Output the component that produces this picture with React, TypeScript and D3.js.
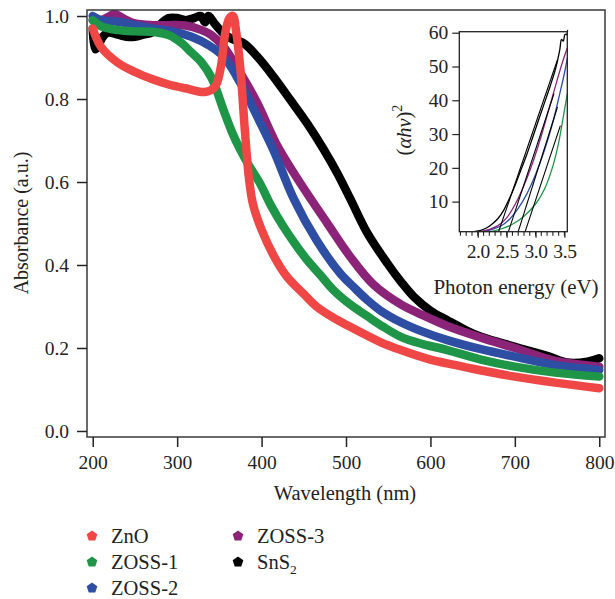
import React, { useRef, useEffect } from "react";
import * as d3 from "d3";

// main plot: wavelength (nm) vs absorbance
const xTicks = [200, 300, 400, 500, 600, 700, 800];
const yTicks = [0.0, 0.2, 0.4, 0.6, 0.8, 1.0];

const zno = [
  [200, 0.97], [210, 0.925], [230, 0.887], [250, 0.865], [270, 0.848], [290, 0.835],
  [310, 0.826], [333, 0.817], [345, 0.83], [352, 0.88], [357, 0.96], [362, 0.995],
  [366, 1.0], [370, 0.96], [375, 0.87], [380, 0.73], [385, 0.61], [390, 0.545],
  [400, 0.485], [415, 0.42], [430, 0.372], [450, 0.33], [465, 0.3], [485, 0.273],
  [505, 0.251], [540, 0.215], [565, 0.195], [600, 0.172], [620, 0.163], [650, 0.15],
  [700, 0.131], [750, 0.116], [800, 0.103],
];
const zoss1 = [
  [200, 0.99], [210, 0.975], [230, 0.966], [250, 0.963], [270, 0.962], [290, 0.954],
  [305, 0.935], [317, 0.912], [329, 0.888], [341, 0.85], [355, 0.773], [365, 0.72],
  [375, 0.677], [385, 0.64], [398, 0.597], [412, 0.54], [426, 0.492], [440, 0.45],
  [454, 0.412], [470, 0.375], [485, 0.34], [505, 0.305], [525, 0.277], [545, 0.25],
  [565, 0.227], [590, 0.21], [620, 0.195], [660, 0.172], [700, 0.155], [750, 0.14],
  [800, 0.131],
];
const zoss2 = [
  [200, 1.0], [210, 0.99], [230, 0.986], [250, 0.978], [270, 0.97], [297, 0.962],
  [317, 0.95], [337, 0.93], [355, 0.902], [375, 0.838], [395, 0.757], [414, 0.677],
  [438, 0.56], [465, 0.46], [493, 0.38], [510, 0.345], [525, 0.316], [541, 0.29],
  [565, 0.262], [590, 0.24], [620, 0.219], [660, 0.197], [700, 0.179], [750, 0.158],
  [800, 0.147],
];
const zoss3 = [
  [200, 0.99], [210, 0.99], [220, 1.0], [226, 1.005], [240, 0.99], [250, 0.982],
  [270, 0.978], [290, 0.978], [310, 0.977], [329, 0.966], [340, 0.955], [355, 0.926],
  [375, 0.862], [395, 0.79], [418, 0.69], [446, 0.597], [478, 0.5], [505, 0.42],
  [533, 0.352], [565, 0.305], [590, 0.28], [620, 0.253], [660, 0.225], [700, 0.2],
  [750, 0.168], [800, 0.155],
];
const sns2 = [
  [200, 0.97], [203, 0.92], [207, 0.93], [212, 0.95], [218, 0.96], [230, 0.955],
  [240, 0.95], [250, 0.95], [260, 0.955], [270, 0.96], [280, 0.98], [290, 0.995],
  [300, 0.995], [310, 0.99], [320, 0.995], [328, 1.0], [333, 0.985], [337, 1.0],
  [345, 0.98], [355, 0.958], [365, 0.945], [379, 0.934], [395, 0.902], [414, 0.854],
  [434, 0.798], [454, 0.741], [474, 0.677], [490, 0.62], [505, 0.56], [525, 0.478],
  [549, 0.404], [565, 0.36], [580, 0.324], [600, 0.29], [620, 0.267], [640, 0.245],
  [660, 0.227], [700, 0.203], [740, 0.18], [762, 0.165], [786, 0.167], [800, 0.175],
];

// inset: photon energy (eV) vs (ahv)^2
const insetXMajor = [2.0, 2.5, 3.0, 3.5];
const insetYTicks = [10, 20, 30, 40, 50, 60];
const insetSnS2 = [
  [1.95, 1.2], [2.05, 1.5], [2.15, 2.2], [2.25, 3.4], [2.35, 5], [2.45, 7.5],
  [2.55, 11], [2.65, 15], [2.75, 19.5], [2.85, 24], [2.95, 29], [3.05, 34],
  [3.15, 39], [3.25, 44], [3.35, 49.5], [3.42, 55], [3.45, 58], [3.48, 57.5],
  [3.51, 59.5], [3.54, 59.5], [3.56, 61],
];
const insetZoss3 = [
  [2.05, 1.1], [2.2, 1.8], [2.35, 2.9], [2.5, 5.2], [2.65, 9.3], [2.8, 14.8],
  [2.95, 21.5], [3.1, 29.5], [3.25, 38.5], [3.4, 47.5], [3.48, 52], [3.55, 55.5],
];
const insetZoss2 = [
  [2.08, 1.1], [2.25, 1.8], [2.4, 2.8], [2.55, 4.8], [2.7, 8], [2.85, 12.3],
  [3.0, 18], [3.15, 25], [3.3, 33.5], [3.42, 42], [3.5, 48], [3.55, 52.5],
];
const insetZoss1 = [
  [2.2, 1.1], [2.4, 1.9], [2.6, 3.3], [2.8, 5.7], [3.0, 9.3], [3.15, 13.5],
  [3.3, 20.5], [3.4, 27.5], [3.48, 35], [3.55, 42],
];
// band gap extrapolation lines
const tangents = [
  [[2.36, 1.1], [3.38, 52]],
  [[2.53, 1.1], [3.32, 42]],
  [[2.7, 1.1], [3.38, 38]],
  [[2.82, 1.1], [3.43, 32.5]],
];

const names = ["ZnO", "ZOSS-1", "ZOSS-2", "ZOSS-3", "SnS2"];
const colors = ["#ef4646", "#1f9548", "#2d4ea2", "#8b2379", "#000000"];

const App = () => {
  const svgRef = useRef(null);

  useEffect(() => {
    const w = 615;
    const h = 599;
    const font = "Liberation Serif";
    const svg = d3
      .select(svgRef.current)
      .attr("width", w)
      .attr("height", h)
      .style("background", "#fff")
      .style("position", "absolute")
      .style("left", "0px")
      .style("top", "0px")
      .style("font-family", font);
    svg.selectAll("*").remove();

    // main scales
    const L = 87, T = 10, R = 605, B = 437;
    const x = d3.scaleLinear().domain([193.2, 806.8]).range([L, R]);
    const y = d3.scaleLinear().domain([-0.0145, 1.0145]).range([B, T]);

    svg.append("clipPath").attr("id", "mainclip")
      .append("rect").attr("x", L).attr("y", T).attr("width", R - L).attr("height", B - T);

    const line = d3
      .line()
      .x((d) => x(d[0]))
      .y((d) => y(d[1]))
      .curve(d3.curveCatmullRom);

    const series = [zno, zoss1, zoss2, zoss3, sns2];
    const drawOrder = [4, 3, 2, 1, 0];
    const g = svg.append("g").attr("clip-path", "url(#mainclip)");
    drawOrder.forEach((i) => {
      g.append("path")
        .attr("d", line(series[i]))
        .attr("fill", "none")
        .attr("stroke", colors[i])
        .attr("stroke-width", 8.5)
        .attr("stroke-linejoin", "round")
        .attr("stroke-linecap", "round");
    });

    // frame
    svg.append("rect")
      .attr("x", L).attr("y", T).attr("width", R - L).attr("height", B - T)
      .attr("fill", "none").attr("stroke", "#3a3a3a").attr("stroke-width", 1.5);

    // x axis
    const xAxis = d3.axisBottom(x).tickValues(xTicks).tickSize(10).tickPadding(8)
      .tickFormat(d3.format("d"));
    const gx = svg.append("g").attr("transform", `translate(0, ${B})`).call(xAxis)
      .attr("font-family", null).attr("font-size", null);
    gx.select(".domain").remove();
    gx.selectAll(".tick line").attr("stroke", "#222").attr("stroke-width", 1.5);
    gx.selectAll(".tick text").style("font-size", "19.5px").style("font-family", font)
      .attr("fill", "#222");

    // y axis
    const yAxis = d3.axisLeft(y).tickValues(yTicks).tickSize(10).tickPadding(8)
      .tickFormat(d3.format(".1f"));
    const gy = svg.append("g").attr("transform", `translate(${L}, 0)`).call(yAxis)
      .attr("font-family", null).attr("font-size", null);
    gy.select(".domain").remove();
    gy.selectAll(".tick line").attr("stroke", "#222").attr("stroke-width", 1.5);
    gy.selectAll(".tick text").style("font-size", "19.5px").style("font-family", font)
      .attr("fill", "#222");

    svg.append("text")
      .attr("x", (L + R) / 2 - 1).attr("y", 500)
      .attr("text-anchor", "middle")
      .style("font-family", font).style("font-size", "20.5px").attr("fill", "#222")
      .text("Wavelength (nm)");
    svg.append("text")
      .attr("transform", `translate(28, 223) rotate(-90)`)
      .attr("text-anchor", "middle")
      .style("font-family", font).style("font-size", "20px").attr("fill", "#222")
      .text("Absorbance (a.u.)");

    // inset
    const iL = 459.3, iT = 31.7, iR = 567.3, iB = 231.7;
    const ix = d3.scaleLinear().domain([1.68, 3.55]).range([iL, iR]);
    const iy = d3.scaleLinear().domain([1.1, 60.3]).range([iB, iT]);
    svg.append("clipPath").attr("id", "insetclip")
      .append("rect").attr("x", iL).attr("y", iT - 2).attr("width", iR - iL + 1).attr("height", iB - iT + 2);
    const iline = d3
      .line()
      .x((d) => ix(d[0]))
      .y((d) => iy(d[1]))
      .curve(d3.curveCatmullRom);
    const ig = svg.append("g").attr("clip-path", "url(#insetclip)");
    const insetSeries = [
      [insetZoss1, colors[1]],
      [insetZoss2, colors[2]],
      [insetZoss3, colors[3]],
      [insetSnS2, colors[4]],
    ];
    insetSeries.forEach(([d, c]) => {
      ig.append("path").attr("d", iline(d)).attr("fill", "none")
        .attr("stroke", c).attr("stroke-width", 1.3);
    });
    tangents.forEach((t) => {
      ig.append("path").attr("d", d3.line().x((d) => ix(d[0])).y((d) => iy(d[1]))(t))
        .attr("fill", "none").attr("stroke", "#000").attr("stroke-width", 1.1);
    });
    svg.append("rect")
      .attr("x", iL).attr("y", iT).attr("width", iR - iL).attr("height", iB - iT)
      .attr("fill", "none").attr("stroke", "#222").attr("stroke-width", 1.3);

    const minor = d3.range(17, 36).map((v) => v / 10);
    svg.append("g").selectAll("line").data(minor).join("line")
      .attr("x1", (d) => ix(d)).attr("x2", (d) => ix(d))
      .attr("y1", iB).attr("y2", iB + 4)
      .attr("stroke", "#222").attr("stroke-width", 1.1);
    const ixAxis = d3.axisBottom(ix).tickValues(insetXMajor).tickSize(6).tickPadding(6)
      .tickFormat(d3.format(".1f"));
    const gix = svg.append("g").attr("transform", `translate(0, ${iB})`).call(ixAxis)
      .attr("font-family", null).attr("font-size", null);
    gix.select(".domain").remove();
    gix.selectAll(".tick line").attr("stroke", "#222").attr("stroke-width", 1.2);
    gix.selectAll(".tick text").style("font-size", "19.5px").style("font-family", font)
      .attr("fill", "#222").attr("letter-spacing", "-0.4px");

    const iyAxis = d3.axisLeft(iy).tickValues(insetYTicks).tickSize(7).tickPadding(4)
      .tickFormat(d3.format("d"));
    const giy = svg.append("g").attr("transform", `translate(${iL}, 0)`).call(iyAxis)
      .attr("font-family", null).attr("font-size", null);
    giy.select(".domain").remove();
    giy.selectAll(".tick line").attr("stroke", "#222").attr("stroke-width", 1.2);
    giy.selectAll(".tick text").style("font-size", "19.5px").style("font-family", font)
      .attr("fill", "#222");

    svg.append("text")
      .attr("x", 516).attr("y", 294)
      .attr("text-anchor", "middle")
      .style("font-family", font).style("font-size", "21px").attr("fill", "#222")
      .text("Photon energy (eV)");
    const ylab = svg.append("text")
      .attr("transform", `translate(411, 130) rotate(-90)`)
      .attr("text-anchor", "middle")
      .style("font-family", font).style("font-size", "20.5px").attr("fill", "#222");
    ylab.append("tspan").text("(");
    ylab.append("tspan").attr("font-style", "italic").text("αhν");
    ylab.append("tspan").text(")");
    ylab.append("tspan").style("font-size", "14px").attr("dy", "-9").text("2");

    // legend
    const pent = (r) =>
      d3.range(5).map((k) => {
        const a = -Math.PI / 2 + (k * 2 * Math.PI) / 5;
        return [r * Math.cos(a), r * Math.sin(a)];
      });
    const legendPos = [
      [92, 536], [92, 562], [92, 588], [238, 536], [238, 562],
    ];
    names.forEach((n, i) => {
      const [lx, ly] = legendPos[i];
      svg.append("path")
        .attr("d", "M" + pent(5.6).join("L") + "Z")
        .attr("transform", `translate(${lx}, ${ly})`)
        .attr("fill", colors[i]);
      const t = svg.append("text")
        .attr("x", lx + 19).attr("y", ly + 7)
        .style("font-family", font).style("font-size", "20.5px").attr("fill", "#222");
      if (n === "SnS2") {
        t.append("tspan").text("SnS");
        t.append("tspan").style("font-size", "13.5px").attr("dy", "5").text("2");
      } else {
        t.text(n);
      }
    });
  }, []);

  return <svg ref={svgRef}></svg>;
};

export default App;
